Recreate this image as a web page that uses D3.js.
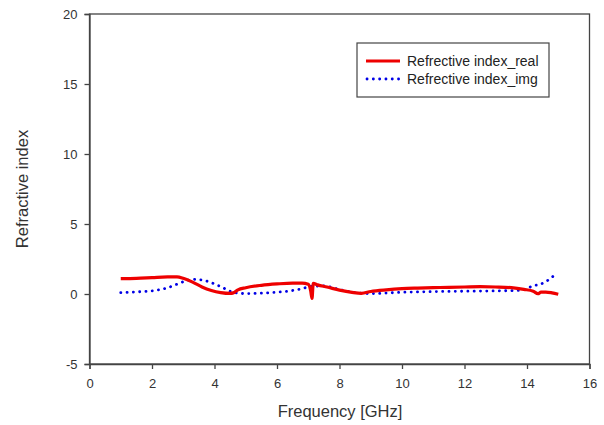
<!DOCTYPE html>
<html><head><meta charset="utf-8">
<script src="https://cdn.jsdelivr.net/npm/d3@7/dist/d3.min.js"></script>
<style>body{margin:0;background:#fff;} svg{display:block;font-family:"Liberation Sans",Arial,sans-serif;}</style>
</head><body>
<script>
const freqReal = [1.0,1.5,2.0,2.5,2.8,3.0,3.3,3.6,3.9,4.2,4.5,4.6,4.75,5.0,5.5,6.0,6.5,6.8,7.0,7.08,7.12,7.16,7.3,7.6,8.0,8.4,8.7,9.0,9.5,10.0,10.5,11.0,11.5,12.0,12.5,13.0,13.5,13.9,14.2,14.35,14.45,14.6,14.8,15.0];
const realVals = [1.1,1.12,1.17,1.22,1.22,1.12,0.85,0.5,0.25,0.1,0.04,0.08,0.3,0.45,0.62,0.72,0.78,0.78,0.7,0.2,-0.32,0.76,0.65,0.5,0.28,0.12,0.05,0.18,0.3,0.38,0.42,0.45,0.48,0.5,0.52,0.5,0.45,0.33,0.2,0.02,0.14,0.14,0.08,-0.02];
const freqImg = [1.0,1.5,2.0,2.5,2.8,3.1,3.3,3.6,4.0,4.3,4.6,5.0,5.5,6.0,6.5,6.8,7.1,7.5,8.0,8.5,9.0,9.5,10.0,11.0,12.0,13.0,13.8,14.0,14.2,14.4,14.6,14.8,14.95];
const imgVals = [0.1,0.15,0.22,0.45,0.7,0.95,1.05,1.0,0.72,0.42,0.12,0.03,0.06,0.13,0.25,0.38,0.55,0.57,0.32,0.1,0.03,0.07,0.12,0.17,0.2,0.22,0.26,0.38,0.6,0.68,0.88,1.2,1.48];
const xTicks = [0,2,4,6,8,10,12,14,16];
const yTicks = [-5,0,5,10,15,20];
const seriesNames = ["Refrective index_real","Refrective index_img"];

const W=604,H=425;
const L=89.5,R=589.5,T=14,B=364;
const svg=d3.select("body").append("svg").attr("width",W).attr("height",H);
const x=d3.scaleLinear().domain([0,16]).range([L,R]);
const y=d3.scaleLinear().domain([-5,20]).range([B,T]);
const ink="#333";

// frame
svg.append("rect").attr("x",L).attr("y",T).attr("width",R-L).attr("height",B-T)
  .attr("fill","none").attr("stroke","#444").attr("stroke-width",1.3);

const fmt=d=>String(d);
const xa=svg.append("g").attr("transform",`translate(0,${B})`)
  .call(d3.axisBottom(x).tickValues(xTicks).tickSize(5).tickPadding(10).tickFormat(fmt));
const ya=svg.append("g").attr("transform",`translate(${L},0)`)
  .call(d3.axisLeft(y).tickValues(yTicks).tickSize(5).tickPadding(7).tickFormat(fmt));
[xa,ya].forEach(g=>{
  g.select(".domain").attr("stroke","#444").attr("stroke-width",1.3);
  g.selectAll(".tick line").attr("stroke","#444").attr("stroke-width",1.3);
  g.selectAll(".tick text").attr("fill",ink).style("font-size","13px");
});

const line=d3.line().x(d=>x(d[0])).y(d=>y(d[1])).curve(d3.curveMonotoneX);
const realData=freqReal.map((f,i)=>[f,realVals[i]]);
const imgData=freqImg.map((f,i)=>[f,imgVals[i]]);

svg.append("path").attr("d",line(imgData)).attr("fill","none").attr("stroke","#0000e6")
  .attr("stroke-width",2.8).attr("stroke-linecap","round").attr("stroke-dasharray","0.1,6.2");
svg.append("path").attr("d",line(realData)).attr("fill","none").attr("stroke","#ee0000")
  .attr("stroke-width",3.2).attr("stroke-linejoin","round");

// axis titles
svg.append("text").attr("x",340).attr("y",417).attr("text-anchor","middle")
  .attr("fill",ink).style("font-size","16.5px").text("Frequency [GHz]");
svg.append("text").attr("transform",`translate(28,${(T+B)/2}) rotate(-90)`).attr("text-anchor","middle")
  .attr("fill",ink).style("font-size","16.5px").text("Refractive index");

// legend
const lg=svg.append("g");
lg.append("rect").attr("x",357).attr("y",43).attr("width",192).attr("height",54)
  .attr("fill","#fff").attr("stroke","#444").attr("stroke-width",1.2);
lg.append("line").attr("x1",366).attr("x2",400).attr("y1",61).attr("y2",61)
  .attr("stroke","#ee0000").attr("stroke-width",3.2);
lg.append("line").attr("x1",367).attr("x2",400).attr("y1",79).attr("y2",79)
  .attr("stroke","#0000e6").attr("stroke-width",2.8).attr("stroke-linecap","round").attr("stroke-dasharray","0.1,6.2");
seriesNames.forEach((n,i)=>{
  lg.append("text").attr("x",407).attr("y",61+i*18).attr("dy","0.35em")
    .attr("fill","#222").style("font-size","14px").text(n);
});
</script>
</body></html>
